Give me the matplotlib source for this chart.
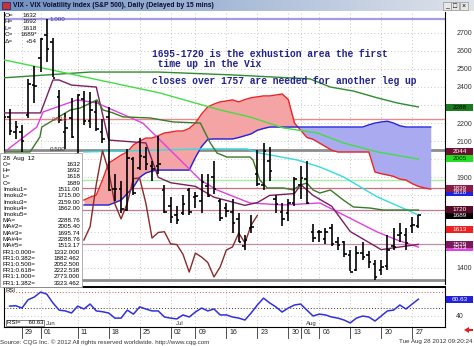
import matplotlib.pyplot as plt
from matplotlib import transforms
from matplotlib.patches import Rectangle, Polygon
import numpy as np

W, H = 474, 346

# daily bars, index 0 = 29 May 2012, prices x100
bar_idx = list(range(-3, 65))
opens = [2408, 2232, 2149, 2150, 2245, 2410, 2560, 2685, 2647, 2345, 2149, 2228, 2030, 2334, 2213, 2262, 2153,
         2235, 1838, 1835, 1720, 2000, 1950, 2015, 1960, 1960, 1830, 1740, 1690, 1700, 1830, 1790, 1770, 1850,
         1900, 1770, 1730, 1710, 1670, 1520, 1620, 1920, 1860, 1990, 1780, 1710, 1700, 1760, 1860, 1890, 1600,
         1600, 1560, 1620, 1540, 1540, 1470, 1390, 1480, 1470, 1420, 1390, 1410, 1520, 1580, 1580, 1630, 1632]
highs = [2510, 2276, 2210, 2188, 2445, 2514, 2671, 2773, 2669, 2380, 2255, 2336, 2358, 2379, 2369, 2321, 2220,
         2290, 1920, 1880, 2055, 2010, 2120, 2070, 1990, 2130, 1860, 1790, 1740, 1800, 1840, 1820, 1920, 1920,
         1990, 1780, 1760, 1780, 1700, 1580, 1690, 2050, 2087, 2070, 1800, 1760, 1780, 1900, 1960, 1990, 1640,
         1610, 1620, 1640, 1570, 1550, 1500, 1520, 1540, 1490, 1440, 1440, 1580, 1620, 1650, 1620, 1680, 1692]
lows = [2226, 2135, 2110, 2038, 2230, 2310, 2485, 2539, 2452, 2203, 2056, 2115, 2006, 2187, 2170, 2157, 2091,
        1826, 1770, 1700, 1712, 1800, 1940, 1940, 1880, 1920, 1700, 1650, 1640, 1690, 1690, 1730, 1700, 1790,
        1810, 1660, 1680, 1590, 1540, 1500, 1590, 1850, 1830, 1880, 1700, 1630, 1660, 1740, 1780, 1750, 1540,
        1540, 1530, 1520, 1500, 1460, 1380, 1380, 1440, 1400, 1332, 1360, 1390, 1500, 1540, 1500, 1590, 1618]
closes = [2233, 2154, 2176, 2103, 2414, 2406, 2666, 2612, 2448, 2216, 2172, 2123, 2356, 2209, 2273, 2168, 2111,
          1832, 1838, 1724, 2008, 1811, 2018, 1972, 1945, 1971, 1708, 1680, 1666, 1750, 1710, 1798, 1872, 1795,
          1833, 1674, 1711, 1648, 1545, 1553, 1627, 1862, 2047, 1934, 1753, 1670, 1757, 1893, 1896, 1757, 1564,
          1595, 1599, 1532, 1528, 1474, 1376, 1481, 1459, 1429, 1349, 1404, 1498, 1515, 1592, 1537, 1635, 1689]

# moving averages
ma_i = [-3, 11, 22, 34, 46.5, 49.8, 53.5, 57.4, 60.6, 64]
ma_v = [2450, 2482, 2482, 2466, 2444, 2399, 2377, 2339, 2311, 2289]
ma2_i = [-3, -2, 22.3, 32, 36.8, 42.2, 47.7, 51.9, 57.4, 64]
ma2_v = [2549, 2543, 2366, 2272, 2234, 2173, 2145, 2090, 2040, 2001]
ma3_i = [10, 22.3, 29.9, 36.3, 38.4, 44.4, 48.1, 51.9, 57.4, 62.2, 64]
ma3_v = [2040, 2051, 2057, 2057, 2034, 1996, 1957, 1902, 1791, 1719, 1692]
ma5_i = [-3, -2, 2.4, 3.4, 8.9, 12.1, 19.5, 22.3, 28.8, 31.5, 36.8, 42.2, 48.1, 51.9, 57.4, 60.6, 64]
ma5_v = [2030, 2062, 2178, 2261, 2328, 2311, 2200, 2106, 1885, 1830, 1758, 1747, 1758, 1692, 1597, 1553, 1514]

# ichimoku lines
kijun_i = [-3, 3, 5, 6, 8, 12, 13, 14, 20, 22, 24, 28, 31, 36, 38, 40, 44, 45, 47, 50, 53, 58, 60, 64]
kijun_v = [2256, 2256, 2438, 2438, 2410, 2399, 2250, 2106, 2090, 1900, 1870, 1850, 1790, 1745, 1760, 1800,
           1810, 1860, 1800, 1740, 1600, 1500, 1510, 1529]
tenkan_i = [-3, 1.3, 2.9, 3.2, 7.8, 9.4, 12.1, 13.1, 14.7, 16.3, 20.7, 24.4, 28.8, 30.4, 31.5, 33.1, 36.8, 37.3,
            38.4, 39.6, 42.2, 43.8, 44.9, 46, 47, 48.1, 49.8, 51.9, 53.5, 56.2, 58.3, 64]
tenkan_v = [2040, 2040, 2123, 2178, 2272, 2283, 2328, 2272, 2256, 2234, 2228, 2206, 2200, 2090, 2034, 2012, 2012,
            1996, 1885, 1841, 1841, 1830, 1857, 1868, 1830, 1813, 1830, 1774, 1736, 1730, 1719, 1719]
cloud_i = list(range(10, 67))
span_a = [1774, 1790, 1802, 1885, 1979, 2000, 2023, 2040, 2079, 2100, 2117, 2117, 2130, 2145, 2150, 2156, 2156,
          2170, 2200, 2250, 2289, 2305, 2317, 2322, 2328, 2317, 2330, 2340, 2345, 2350, 2350, 2355, 2361, 2330,
          2200, 2160, 2120, 2110, 2090, 2070, 2050, 2040, 2040, 2040, 2040, 2040, 2040, 1929, 1920, 1913, 1905,
          1890, 1885, 1865, 1850, 1841, 1835]
span_b = [1747, 1747, 1747, 1747, 1747, 1760, 1774, 1810, 1846, 1900, 1924, 1935, 1940, 1940, 1940, 1940, 1940,
          1940, 2010, 2070, 2110, 2112, 2112, 2112, 2112, 2120, 2130, 2140, 2160, 2170, 2178, 2178, 2178, 2178,
          2178, 2178, 2178, 2178, 2178, 2178, 2178, 2178, 2178, 2178, 2178, 2178, 2190, 2200, 2206, 2210, 2200,
          2185, 2178, 2178, 2178, 2178, 2178]
lag = 26

# fibonacci + drawn levels
fib_levels = [2773, 2222.5, 2052.5, 1882.5, 1332]
fib_colors = ['#a898e8', '#e88a8a', '#8c8c8c', '#a8eea8', '#8c8c8c']
fib_widths = [1.6, 1.0, 2.0, 1.0, 2.0]
hlines = [1839, 1720, 1529]
hline_colors = ['#d06a80', '#c07a98', '#c48aaa']

# RSI
rsi_i = list(range(-2, 65))
rsi_v = [52, 52.5, 49.6, 60, 63.4, 69.6, 67, 56, 47, 46, 43.4, 52, 48.4, 54.6, 46, 45, 43.4, 37, 37, 47, 42, 51,
         48.4, 46, 46, 38.4, 37, 36, 41, 38.4, 44.6, 49.6, 46, 48.4, 41, 41, 38.4, 37, 34.6, 43.4, 53.4, 62, 56,
         51, 44.6, 49.6, 53.4, 54.6, 47, 39.6, 42, 41, 38.4, 37, 34.6, 31, 37, 39.6, 38.4, 33.4, 39.6, 46, 47,
         53.4, 48.4, 54.6, 60.63]

tick_idx = [0, 3, 9, 14, 19, 24, 28, 33, 38, 43, 45, 48, 53, 58, 63]
tick_lbl = ['29', '01', '11', '18', '25', '02', '09', '16', '23', '30', '01', '06', '13', '20', '27']
month_idx = [3, 24, 45]
month_lbl = ['Jun', 'Jul', 'Aug']
price_ticks = [1400, 1900, 2100, 2200, 2400, 2500, 2600, 2700]

box_vals = [2288, 2044, 2005, 1818, 1839, 1689, 1720, 1613, 1513, 1529]
box_bg = ['#1e7a1e', '#6e1030', '#22dd22', '#2222dd', '#8a1c4c', '#000000', '#5a0a28', '#ee2020', '#dd44dd', '#7a1a5a']
box_fg = ['#000000', 'white', '#003300', 'white', 'white', 'white', 'white', 'white', 'white', 'white']

info_top = [('O=', '1632'), ('H=', '1692'), ('L=', '1618'), ('C=', '1689*'), ('Δ=', '+54')]
info_box = [('O=', '1632'), ('H=', '1692'), ('L=', '1618'), ('C=', '1689'), ('Imoku1=', '1511.00'),
            ('Imoku2=', '1715.00'), ('Imoku3=', '2159.00'), ('Imoku4=', '1862.00'), ('Imoku5=', ''),
            ('MA=', '2288.76'), ('MA#2=', '2005.40'), ('MA#3=', '1695.74'), ('MA#4=', '2288.76'),
            ('MA#5=', '1513.17'), ('FR1:0.000=', '1332.000'), ('FR1:0.382=', '1882.462'),
            ('FR1:0.500=', '2052.500'), ('FR1:0.618=', '2222.538'), ('FR1:1.000=', '2773.000'),
            ('FR1:1.382=', '3323.462')]

note_lines = ['1695-1720 is the exhustion area the first',
              ' time up in the Vix',
              'closes over 1757 are needed for another leg up']

plt.rcParams['font.family'] = ['Liberation Sans', 'DejaVu Sans']

fig = plt.figure(figsize=(W / 100, H / 100), dpi=100)
fig.patch.set_facecolor('white')


def frac(x0, y0, x1, y1):
    return [x0 / W, 1 - y1 / H, (x1 - x0) / W, (y1 - y0) / H]


ax = fig.add_axes(frac(4, 12, 445, 284))
ax_rsi = fig.add_axes(frac(4, 287, 445, 327))
for a in (ax, ax_rsi):
    a.set_xlim(-2.9, 68.3)
    a.set_xticks(tick_idx)
    a.set_xticklabels([])
    a.grid(True, color='#b4b4b4', lw=0.6, ls=(0, (1, 3)))
    a.tick_params(axis='both', length=0)
    for s in a.spines.values():
        s.set_color('black')
        s.set_linewidth(0.8)

ax.set_ylim(1310, 2814)
ax.set_yticks(price_ticks)
ax.yaxis.tick_right()
ax.tick_params(axis='y', labelsize=5, labelcolor='#333333', pad=8)
ax.spines['top'].set_visible(False)
ax.spines['bottom'].set_visible(False)
# keep the dotted grid at every 100 even where the label is hidden by a box
for lv in [1500, 1600, 1700, 1800, 2000, 2300]:
    ax.axhline(lv, color='#b4b4b4', lw=0.6, ls=(0, (1, 3)), zorder=1)

# fib / level lines
for lv, c, w in zip(fib_levels, fib_colors, fib_widths):
    ax.axhline(lv, color=c, lw=w, zorder=2)
for lv, c in zip(hlines, hline_colors):
    ax.axhline(lv, color=c, lw=0.9, zorder=2)

# cloud
a_arr = np.array(span_a)
b_arr = np.array(span_b)
ax.fill_between(cloud_i, a_arr, b_arr, where=a_arr >= b_arr, color='#f4a4a4', interpolate=True, zorder=2, lw=0)
ax.fill_between(cloud_i, a_arr, b_arr, where=a_arr < b_arr, color='#aaaaf0', interpolate=True, zorder=2, lw=0)
ax.plot(cloud_i, span_a, color='#ee2222', lw=1, zorder=3)
ax.plot(cloud_i, span_b, color='#2222dd', lw=1, zorder=3)

ax.plot(ma_i, ma_v, color='#2e8b2e', lw=1, zorder=3)
ax.plot(ma2_i, ma2_v, color='#44dd44', lw=1, zorder=3)
ax.plot(ma3_i, ma3_v, color='#33dddd', lw=1, zorder=3)
ax.plot(ma5_i, ma5_v, color='#e040e0', lw=1, zorder=3)
ax.plot(kijun_i, kijun_v, color='#7a2060', lw=1, zorder=3)
ax.plot(tenkan_i, tenkan_v, color='#3a7a2a', lw=1, zorder=3)
ax.plot([i - lag for i in bar_idx[36 + 3:]], closes[36 + 3:], color='#8b2a2a', lw=1, zorder=3)

# OHLC bars
ax.vlines(bar_idx, lows, highs, color='black', lw=1.2, zorder=4)
ax.hlines(opens, [i - 0.4 for i in bar_idx], bar_idx, color='black', lw=1.2, zorder=4)
ax.hlines(closes, bar_idx, [i + 0.4 for i in bar_idx], color='black', lw=1.2, zorder=4)

# right-hand value boxes
bt = transforms.blended_transform_factory(ax.transAxes, ax.transData)
for v, bg, fg in zip(box_vals, box_bg, box_fg):
    ax.add_patch(Rectangle((1.0023, v - 19), 0.061, 38, transform=bt, facecolor=bg, edgecolor='none',
                           clip_on=False, zorder=6))
    ax.text(1.033, v, str(v), transform=bt, fontsize=4.6, color=fg, ha='center', va='center', zorder=7)

# fib labels on chart
ax.text(4.5, 2773, '1.000', fontsize=4.5, color='#3030b0', va='center', zorder=5)
ax.text(4.8, 2222, '0.618', fontsize=4.5, color='#d04040', va='center', zorder=5)
ax.text(4.5, 2052, '0.500', fontsize=4.5, color='#333333', va='center', zorder=5)

# RSI panel
ax_rsi.set_ylim(25.9, 75.9)
ax_rsi.set_yticks([40])
ax_rsi.yaxis.tick_right()
ax_rsi.tick_params(axis='y', labelsize=5, labelcolor='#333333', pad=8)
ax_rsi.axhline(70, color='#e05050', lw=0.7, ls=(0, (1, 2)))
ax_rsi.axhline(50, color='#333333', lw=0.7, ls=(0, (1, 2)))
ax_rsi.plot(rsi_i, rsi_v, color='#3030dd', lw=1.1)
ax_rsi.spines['top'].set_linewidth(1.4)
rt = transforms.blended_transform_factory(ax_rsi.transAxes, ax_rsi.transData)
ax_rsi.add_patch(Rectangle((1.0023, 60.63 - 4.2), 0.061, 8.4, transform=rt, facecolor='#2222dd',
                           edgecolor='none', clip_on=False, zorder=6))
ax_rsi.text(1.033, 60.63, '60.63', transform=rt, fontsize=4.6, color='white', ha='center', va='center', zorder=7)
ax_rsi.text(0.003, 0.97, 'RSI', transform=ax_rsi.transAxes, fontsize=4.3, va='top')
ax_rsi.text(0.006, 0.04, 'RSI=     60.63', transform=ax_rsi.transAxes, fontsize=4.3, va='bottom',
            bbox=dict(boxstyle='square,pad=0.15', fc='white', ec='#555555', lw=0.5))
dt = transforms.blended_transform_factory(ax_rsi.transData, ax_rsi.transAxes)
for i, lb in zip(tick_idx, tick_lbl):
    ax_rsi.plot([i, i], [-0.02, -0.27], color='#333333', lw=0.6, transform=dt, clip_on=False)
    ax_rsi.text(i + 0.5, -0.14, lb, transform=dt, fontsize=5, color='#222222', va='center')
for i, lb in zip(month_idx, month_lbl):
    ax_rsi.text(i + 0.8, 0.03, lb, transform=dt, fontsize=4.3, color='#333333', va='bottom')

# overlay in pixel coordinates
ov = fig.add_axes([0, 0, 1, 1])
ov.set_xlim(0, W)
ov.set_ylim(H, 0)
ov.axis('off')
ov.patch.set_alpha(0)

grad = np.linspace(0, 1, 200)[None, :]
ov.imshow(grad, extent=(0, W, 11, 0), cmap=plt.matplotlib.colors.LinearSegmentedColormap.from_list(
    'tb', ['#6f8fc0', '#a9bcd8', '#dfe3ea']), aspect='auto', zorder=1)
ov.add_patch(Rectangle((2, 2), 8, 7, facecolor='#d03030', edgecolor='#203080', lw=0.6, zorder=2))
ov.text(13, 5.8, 'VIX - VIX Volatility Index (S&P 500), Daily (Delayed by 15 mins)', fontsize=4.9,
        fontweight='bold', color='#0a0a30', va='center', zorder=3)
for k, s in enumerate(['_', '□', '×']):
    ov.add_patch(Rectangle((443 + k * 8.5, 2), 8, 8, facecolor='#e8e8e8', edgecolor='#808080', lw=0.4, zorder=2))
    ov.text(447 + k * 8.5, 6, s, fontsize=5, ha='center', va='center', color='black', zorder=3)

for k, (lb, v) in enumerate(info_top):
    ov.text(5, 15.5 + k * 6.4, lb, fontsize=4.6, va='center', color='#111111')
    ov.text(37, 15.5 + k * 6.4, v, fontsize=4.6, va='center', ha='right', color='#111111')

ov.add_patch(Rectangle((0, 153), 82, 134, facecolor='white', edgecolor='#909090', lw=0.5, zorder=4))
ov.text(3, 158.2, '28  Aug  12', fontsize=4.5, va='center', zorder=5)
for k, (lb, v) in enumerate(info_box):
    ov.text(3, 164.5 + k * 6.25, lb, fontsize=4.5, va='center', zorder=5)
    ov.text(80, 164.5 + k * 6.25, v, fontsize=4.5, va='center', ha='right', zorder=5)

for k, (t, y) in enumerate(zip(note_lines, [54, 64, 81])):
    ov.text(152, y, t, fontsize=6.9, family='Liberation Mono', fontweight='bold', color='#22228c',
            va='center', zorder=5)

ov.add_patch(Polygon([[464, 330], [469, 327], [469, 329], [473, 329], [473, 331], [469, 331], [469, 333]],
                     closed=True, facecolor='#e02020', edgecolor='none', zorder=5))
ov.text(0, 342, 'Source: CQG Inc. © 2012 All rights reserved worldwide. http://www.cqg.com', fontsize=4.5,
        color='#333333', va='center')
ov.text(473, 342, 'Tue Aug 28 2012 09:20:24', fontsize=4.5, color='#333333', va='center', ha='right')

fig.savefig('out.png', dpi=100)
